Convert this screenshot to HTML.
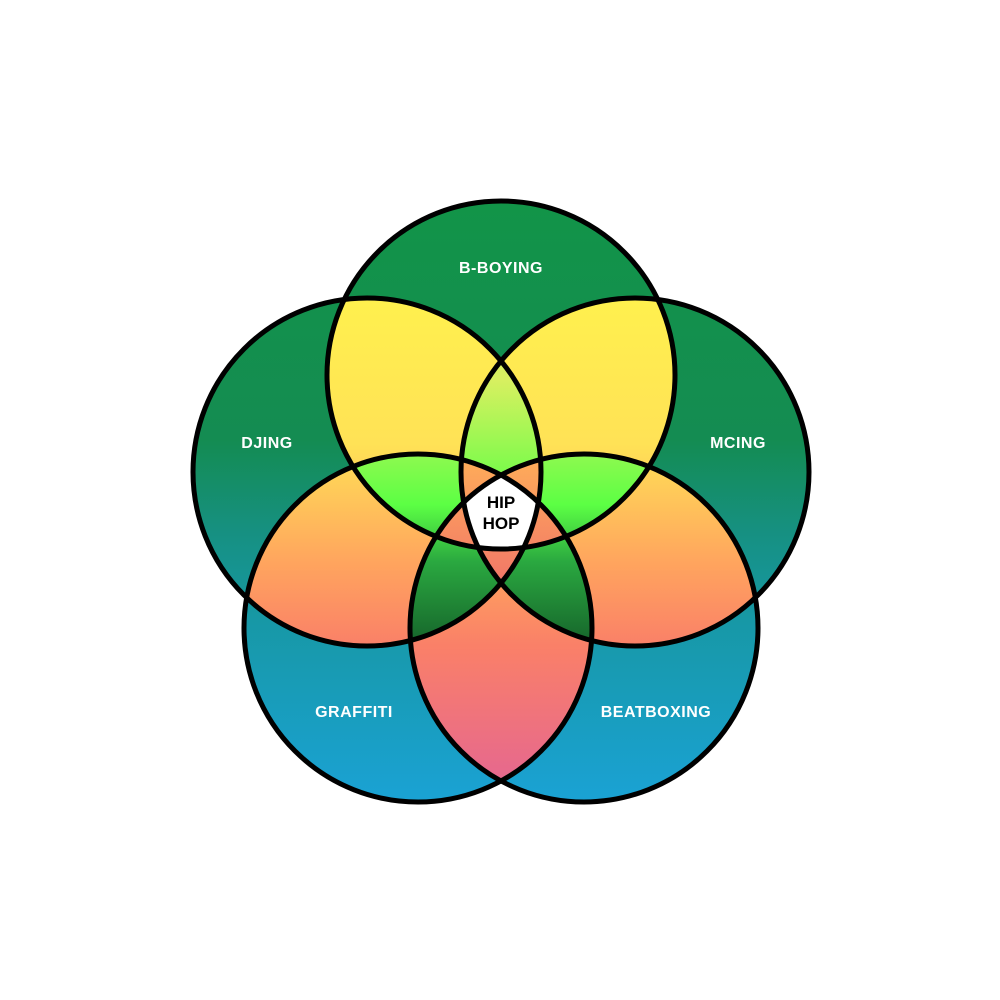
<!DOCTYPE html>
<html><head><meta charset="utf-8"><style>
html,body{margin:0;padding:0;background:#fff}
svg{display:block}
text{font-family:"Liberation Sans",sans-serif;font-weight:bold}
</style></head><body>
<svg width="1000" height="1000" viewBox="0 0 1000 1000" xmlns="http://www.w3.org/2000/svg">
<defs>
<linearGradient id="g1" gradientUnits="userSpaceOnUse" x1="0" y1="200" x2="0" y2="800">
<stop offset="0" stop-color="#129448"/><stop offset="0.4" stop-color="#148c52"/><stop offset="0.55" stop-color="#169080"/><stop offset="0.7" stop-color="#1798a6"/><stop offset="1" stop-color="#1aa2d4"/></linearGradient>
<linearGradient id="g2" gradientUnits="userSpaceOnUse" x1="0" y1="300" x2="0" y2="780">
<stop offset="0" stop-color="#fff04e"/><stop offset="0.3" stop-color="#ffe256"/><stop offset="0.55" stop-color="#ffa45e"/><stop offset="0.72" stop-color="#fa8068"/><stop offset="1" stop-color="#e6688e"/></linearGradient>
<linearGradient id="g3" gradientUnits="userSpaceOnUse" x1="0" y1="380" x2="0" y2="640">
<stop offset="0" stop-color="#d8f060"/><stop offset="0.48" stop-color="#5cff44"/><stop offset="0.7" stop-color="#2aa840"/><stop offset="1" stop-color="#17682c"/></linearGradient>
<linearGradient id="g4" gradientUnits="userSpaceOnUse" x1="0" y1="450" x2="0" y2="580">
<stop offset="0" stop-color="#ffb058"/><stop offset="1" stop-color="#f27868"/></linearGradient>
<clipPath id="cA"><circle cx="501" cy="375" r="174"/></clipPath>
<clipPath id="cB"><circle cx="367" cy="472" r="174"/></clipPath>
<clipPath id="cC"><circle cx="635" cy="472" r="174"/></clipPath>
<clipPath id="cD"><circle cx="418" cy="628" r="174"/></clipPath>
<clipPath id="cE"><circle cx="584" cy="628" r="174"/></clipPath>
<circle id="A" cx="501" cy="375" r="174"/>
<circle id="B" cx="367" cy="472" r="174"/>
<circle id="C" cx="635" cy="472" r="174"/>
<circle id="D" cx="418" cy="628" r="174"/>
<circle id="E" cx="584" cy="628" r="174"/>
</defs>
<g fill="url(#g1)"><use href="#A"/><use href="#B"/><use href="#C"/><use href="#D"/><use href="#E"/></g>
<g fill="url(#g2)">
<g clip-path="url(#cA)"><use href="#B"/><use href="#C"/><use href="#D"/><use href="#E"/></g>
<g clip-path="url(#cB)"><use href="#C"/><use href="#D"/><use href="#E"/></g>
<g clip-path="url(#cC)"><use href="#D"/><use href="#E"/></g>
<g clip-path="url(#cD)"><use href="#E"/></g>
</g>
<g fill="url(#g3)">
<g clip-path="url(#cA)">
<g clip-path="url(#cB)"><use href="#C"/><use href="#D"/><use href="#E"/></g>
<g clip-path="url(#cC)"><use href="#D"/><use href="#E"/></g>
<g clip-path="url(#cD)"><use href="#E"/></g>
</g>
<g clip-path="url(#cB)">
<g clip-path="url(#cC)"><use href="#D"/><use href="#E"/></g>
<g clip-path="url(#cD)"><use href="#E"/></g>
</g>
<g clip-path="url(#cC)"><g clip-path="url(#cD)"><use href="#E"/></g></g>
</g>
<g fill="url(#g4)">
<g clip-path="url(#cA)">
<g clip-path="url(#cB)">
<g clip-path="url(#cC)"><use href="#D"/><use href="#E"/></g>
<g clip-path="url(#cD)"><use href="#E"/></g>
</g>
<g clip-path="url(#cC)"><g clip-path="url(#cD)"><use href="#E"/></g></g>
</g>
<g clip-path="url(#cB)"><g clip-path="url(#cC)"><g clip-path="url(#cD)"><use href="#E"/></g></g></g>
</g>
<g fill="#fff"><g clip-path="url(#cA)"><g clip-path="url(#cB)"><g clip-path="url(#cC)"><g clip-path="url(#cD)"><use href="#E"/></g></g></g></g></g>
<g fill="none" stroke="#000" stroke-width="5"><use href="#A"/><use href="#B"/><use href="#C"/><use href="#D"/><use href="#E"/></g>
<g fill="#fff" font-size="16" text-anchor="middle" letter-spacing="0.5">
<text x="501" y="273">B-BOYING</text>
<text x="267" y="448">DJING</text>
<text x="738" y="448">MCING</text>
<text x="354" y="717">GRAFFITI</text>
<text x="656" y="717">BEATBOXING</text>
</g>
<g fill="#000" font-size="17" text-anchor="middle">
<text x="501" y="508">HIP</text>
<text x="501" y="529">HOP</text>
</g>
</svg>
</body></html>
